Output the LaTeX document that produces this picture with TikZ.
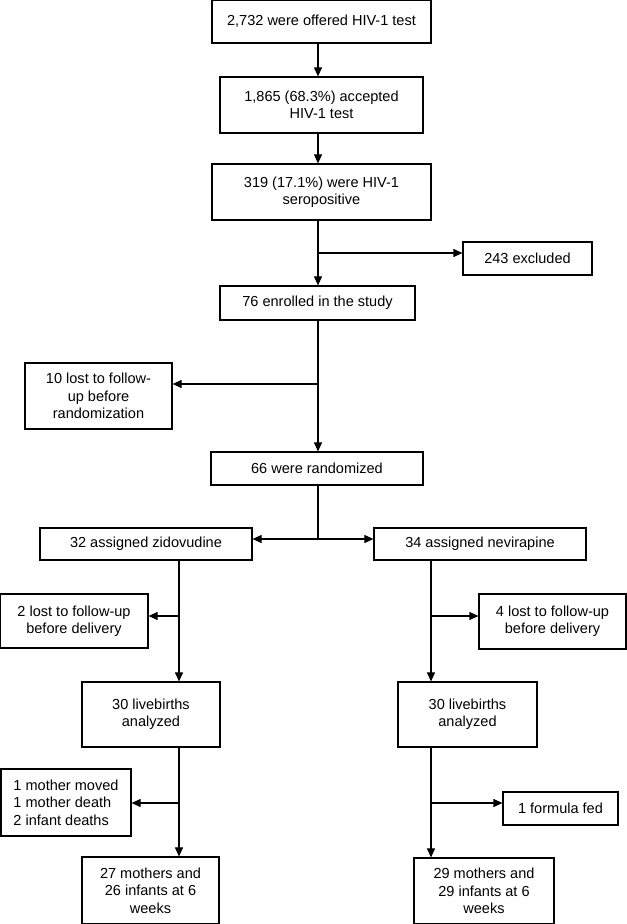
\documentclass[tikz,border=0pt]{standalone}
\usepackage{fontspec}
\setmainfont{Liberation Sans}
\usetikzlibrary{arrows.meta}

\tikzset{box/.style 2 args={draw, line width=0.9pt, align=center, inner sep=1pt,
    minimum width=#1*0.75pt, minimum height=#2*0.75pt,
    font=\fontsize{10.9pt}{13.1pt}\selectfont}}

\begin{document}
\begin{tikzpicture}[x=0.75pt, y=-0.75pt, line width=0.8pt, >={Triangle[length=6.75pt,width=6pt]}]
\useasboundingbox (0,0) rectangle (626,924);

\node[box={219}{43}] (offer) at (321.5, 21.5) {2,732 were offered HIV-1 test};
\node[box={203}{56}] (accept) at (321.5, 105) {1,865 (68.3\%) accepted\\HIV-1 test};
\node[box={219}{56}] (seropos) at (321.5, 192) {319 (17.1\%) were HIV-1\\seropositive};
\node[box={129}{33}] (excluded) at (527.5, 258.5) {243 excluded};
\node[box={195}{34}] (enrolled) at (317.5, 303) {76 enrolled in the study};
\node[box={147}{66}] (lostrand) at (98.5, 396) {10 lost to follow-\\up before\\randomization};
\node[box={212}{33}] (random) at (317, 468.5) {66 were randomized};
\node[box={212}{32}] (zid) at (146, 544) {32 assigned zidovudine};
\node[box={212}{32}] (nev) at (480, 544) {34 assigned nevirapine};
\node[box={148}{54}] (lostzid) at (74, 621) {2 lost to follow-up\\before delivery};
\node[box={147}{55}] (lostnev) at (552.5, 621.5) {4 lost to follow-up\\before delivery};
\node[box={138}{65}] (liveZ) at (151, 714.5) {30 livebirths\\analyzed};
\node[box={139}{65}] (liveN) at (467.5, 714.5) {30 livebirths\\analyzed};
\node[box={130}{67}, align=left] (otherZ) at (66, 802.5) {1 mother moved\\1 mother death\\2 infant deaths};
\node[box={115}{33}] (formula) at (560.5, 808.5) {1 formula fed};
\node[box={137}{67}] (finZ) at (150.5, 890.5) {27 mothers and\\26 infants at 6\\weeks};
\node[box={140}{66}] (finN) at (484, 891) {29 mothers and\\29 infants at 6\\weeks};

\coordinate (spine) at (318, 0);
\coordinate (lspine) at (179, 0);
\coordinate (rspine) at (431, 0);

\draw[->] (offer.south -| spine) -- (accept.north -| spine);
\draw[->] (accept.south -| spine) -- (seropos.north -| spine);
\draw[->] (seropos.south -| spine) -- (enrolled.north -| spine);
\coordinate (cut1) at (318, 253);
\draw[->] (cut1) -- (cut1 -| excluded.west);
\draw[->] (enrolled.south -| spine) -- (random.north -| spine);
\coordinate (cut2) at (318, 384);
\draw[->] (cut2) -- (cut2 -| lostrand.east);
\coordinate (split) at (318, 539);
\draw (random.south -| spine) -- (split);
\draw[->] (split) -- (split -| zid.east);
\draw[->] (split) -- (split -| nev.west);

\draw[->] (zid.south -| lspine) -- (liveZ.north -| lspine);
\coordinate (cut3) at (179, 616);
\draw[->] (cut3) -- (cut3 -| lostzid.east);
\draw[->] (liveZ.south -| lspine) -- (finZ.north -| lspine);
\coordinate (cut4) at (179, 803);
\draw[->] (cut4) -- (cut4 -| otherZ.east);

\draw[->] (nev.south -| rspine) -- (liveN.north -| rspine);
\coordinate (cut5) at (431, 616);
\draw[->] (cut5) -- (cut5 -| lostnev.west);
\draw[->] (liveN.south -| rspine) -- (finN.north -| rspine);
\coordinate (cut6) at (431, 803);
\draw[->] (cut6) -- (cut6 -| formula.west);
\end{tikzpicture}
\end{document}
